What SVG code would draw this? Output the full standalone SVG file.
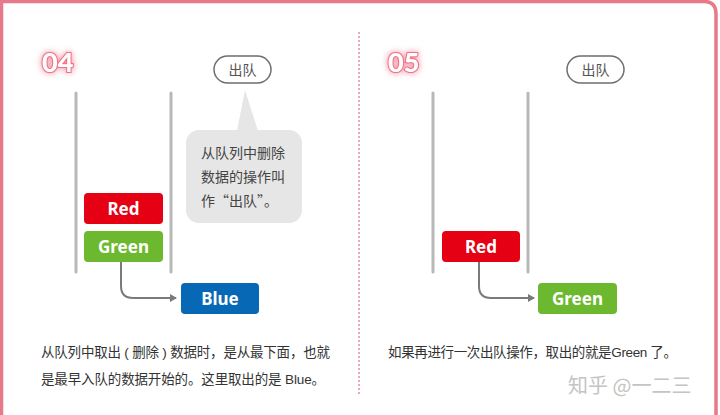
<svg xmlns="http://www.w3.org/2000/svg" width="720" height="415" viewBox="0 0 720 415">
<defs>
<style>
.frame{fill:none;stroke:#e8798a;stroke-width:3.5}
.div{stroke:#e9a9b6;stroke-width:2;stroke-dasharray:2 2}
.wall{stroke:#b8b8b8;stroke-width:3;stroke-linecap:round}
.box{font-family:"Noto Sans","Liberation Sans",sans-serif;font-weight:bold;font-size:17px;fill:#fff;text-anchor:middle}
.pill{fill:#fff;stroke:#6e6e6e;stroke-width:1.5}
.pilltxt{font-family:"Noto Sans CJK SC",sans-serif;font-size:14px;fill:#555;text-anchor:middle}
.num{font-family:"Lato","Noto Sans",sans-serif;font-weight:900;font-size:27px;fill:#fff;stroke:#ee7489;stroke-width:2.2;paint-order:stroke}
.cap{font-family:"Liberation Sans","Noto Sans CJK SC",sans-serif;font-size:13.5px;fill:#333}
.call{font-family:"Noto Sans CJK SC",sans-serif;font-size:14px;fill:#444}
.conn{fill:none;stroke:#7a7a7a;stroke-width:2}
.wm{font-family:"Noto Sans CJK SC",sans-serif;font-size:20px;fill:#c4c4c4}
</style>
<filter id="glow" x="-40%" y="-40%" width="180%" height="180%">
<feGaussianBlur in="SourceAlpha" stdDeviation="3" result="b"/>
<feFlood flood-color="#f48a9d"/>
<feComposite in2="b" operator="in"/>
<feMerge><feMergeNode/><feMergeNode in="SourceGraphic"/></feMerge>
</filter>
<marker id="arr" markerWidth="8" markerHeight="8" refX="6" refY="4" orient="auto" markerUnits="userSpaceOnUse">
<path d="M0,0 L7,4 L0,8 Z" fill="#7a7a7a"/>
</marker>
</defs>
<rect width="720" height="415" fill="#fff"/>
<path class="frame" d="M1.5,420 V1.5 H704 Q716,1.5 716,14 V420"/>
<line class="div" x1="359" y1="32" x2="359" y2="396"/>

<g id="step04">
<text class="num" x="42" y="72" filter="url(#glow)">04</text>
</g>
<g id="step05">
<text class="num" x="388" y="72" filter="url(#glow)">05</text>
</g>

<g id="queue-left">
<line class="wall" x1="76" y1="93" x2="76" y2="272"/>
<line class="wall" x1="171" y1="93" x2="171" y2="272"/>
</g>
<g id="queue-right">
<line class="wall" x1="433" y1="93" x2="433" y2="272"/>
<line class="wall" x1="528" y1="93" x2="528" y2="272"/>
</g>

<g id="pill-left">
<rect class="pill" x="214" y="56" width="57" height="27" rx="13.5"/>
<text class="pilltxt" x="242.5" y="74.5">出队</text>
</g>
<g id="pill-right">
<rect class="pill" x="567" y="56" width="57" height="27" rx="13.5"/>
<text class="pilltxt" x="595.5" y="74.5">出队</text>
</g>

<g id="callout">
<path d="M245,90 L258,131 L237,131 Z" fill="#e6e6e6"/>
<rect x="186" y="130" width="116" height="93" rx="13" fill="#e6e6e6"/>
<text class="call" x="201" y="158">从队列中删除</text>
<text class="call" x="201" y="182">数据的操作叫</text>
<text class="call" x="201" y="206">作“出队”。</text>
</g>

<g id="connectors">
<path class="conn" d="M121,262 V286 Q121,298 133,298 H176" marker-end="url(#arr)"/>
<path class="conn" d="M479,262 V286 Q479,298 491,298 H534" marker-end="url(#arr)"/>
</g>

<g id="red-left">
<rect x="84" y="193" width="79" height="31" rx="4" fill="#e50013"/>
<text class="box" x="123.5" y="215">Red</text>
</g>
<g id="green-left">
<rect x="84" y="231" width="79" height="31" rx="4" fill="#6cb92f"/>
<text class="box" x="123.5" y="253">Green</text>
</g>
<g id="blue">
<rect x="181" y="283" width="78" height="31" rx="4" fill="#0769b6"/>
<text class="box" x="220" y="305">Blue</text>
</g>
<g id="red-right">
<rect x="442" y="231" width="78" height="31" rx="4" fill="#e50013"/>
<text class="box" x="481" y="253">Red</text>
</g>
<g id="green-right">
<rect x="538" y="283" width="79" height="31" rx="4" fill="#6cb92f"/>
<text class="box" x="577.5" y="305">Green</text>
</g>

<g id="captions">
<text class="cap" x="41" y="357" textLength="289" lengthAdjust="spacing">从队列中取出 ( 删除 ) 数据时，是从最下面，也就</text>
<text class="cap" x="41" y="384" textLength="284" lengthAdjust="spacing">是最早入队的数据开始的。这里取出的是 Blue。</text>
<text class="cap" x="388" y="357" textLength="289" lengthAdjust="spacing">如果再进行一次出队操作，取出的就是Green 了。</text>
</g>
<text class="wm" x="568" y="393">知乎 @一二三</text>
</svg>
